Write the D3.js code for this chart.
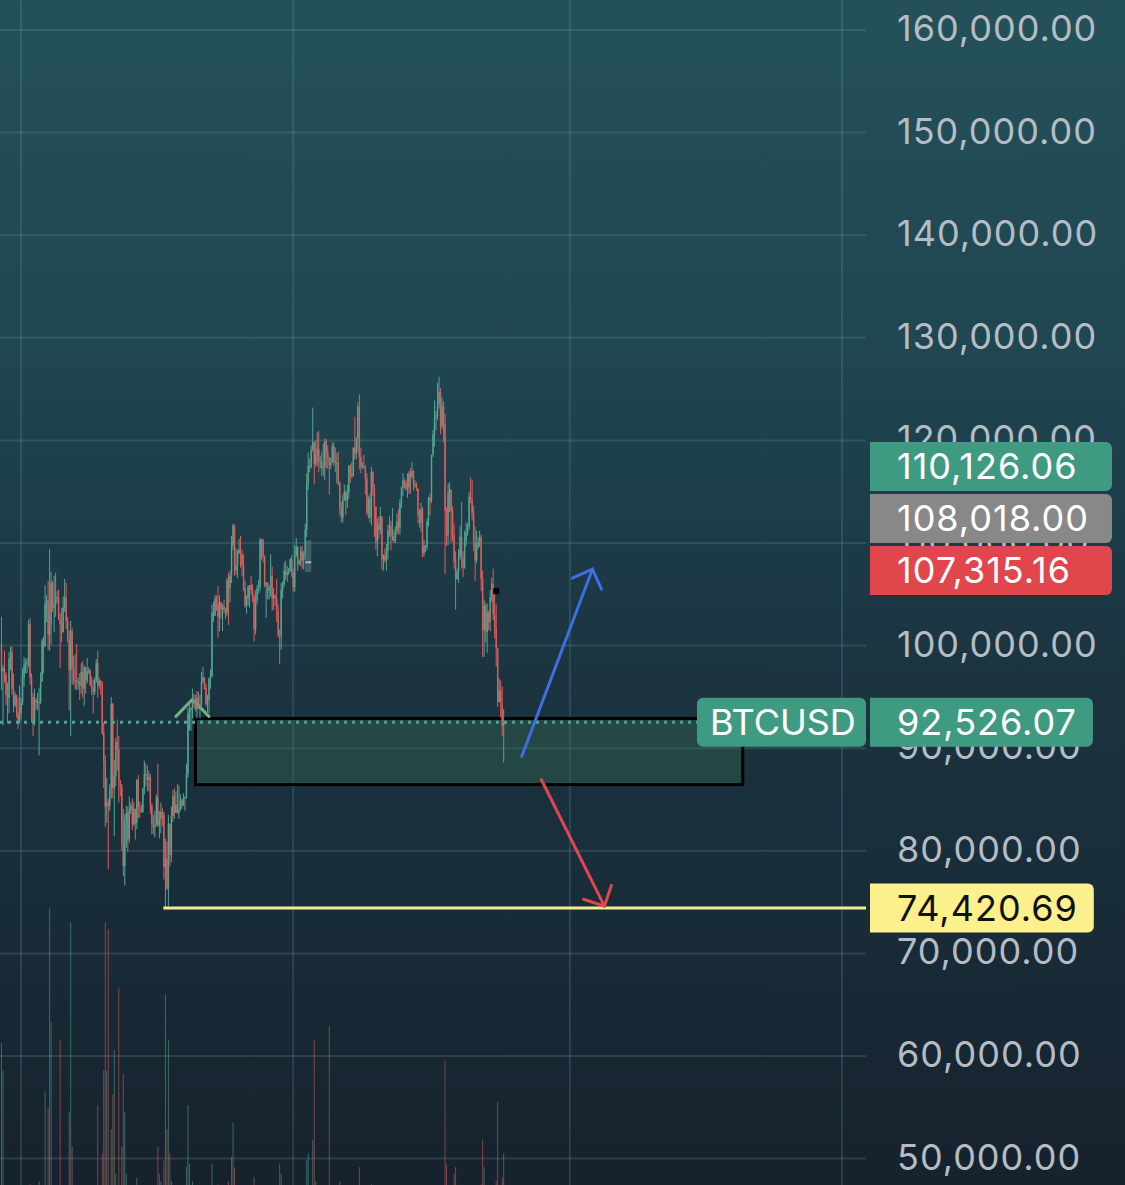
<!DOCTYPE html>
<html>
<head>
<meta charset="utf-8">
<script src="https://cdn.jsdelivr.net/npm/d3@7"></script>
<style>
  html, body { margin: 0; padding: 0; background: #172430; }
  svg { display: block; }
</style>
</head>
<body>
<svg id="chart" width="1125" height="1185"></svg>
<script>
// BTCUSD daily candles, 19 Dec 2024 – 18 Nov 2025, prices in thousands of USD
const firstDay = "2024-12-19";

const opens = [
  // Dec
  100.2,97.5,97.8,97.2,95.2,94.9,98.7,99.4,95.8,94.2,95.2,93.5,92.6,
  // Jan
  93.4,94.4,96.9,98.1,98.2,98.3,102.1,96.9,95.0,92.5,94.7,94.5,94.5,94.5,96.5,100.5,99.9,104.1,104.4,101.1,102.0,106.1,103.7,104.0,104.7,104.7,102.6,102.1,101.3,103.7,104.7,
  // Feb
  102.4,100.6,97.6,101.4,97.8,96.6,96.6,96.5,96.5,96.1,97.4,95.8,97.9,96.6,97.5,97.6,96.1,95.8,95.5,96.6,98.3,96.1,96.6,96.3,91.5,88.7,84.3,84.7,
  // Mar
  84.4,86.0,94.3,86.1,87.3,90.6,89.9,86.8,86.2,80.7,78.5,82.9,83.7,81.1,84.0,84.4,82.6,84.1,82.7,86.9,84.2,84.1,83.8,86.1,87.5,87.4,86.9,87.2,84.4,82.6,82.3,
  // Apr
  82.5,85.2,82.5,83.1,83.8,83.5,78.4,79.2,76.3,82.6,79.6,83.4,85.3,83.7,84.5,83.7,84.0,84.9,84.4,85.1,85.2,87.5,93.4,93.7,93.9,94.7,94.6,93.8,94.9,94.2,
  // May
  94.2,96.5,96.9,95.9,94.3,94.7,96.8,97.0,103.2,102.9,104.6,104.1,102.8,104.2,103.5,103.8,103.5,103.2,106.4,105.6,106.8,109.7,111.7,107.3,107.8,109.0,109.4,108.9,107.8,105.6,103.9,
  // Jun
  104.6,105.7,105.9,105.4,104.7,101.6,104.4,105.6,105.7,110.3,110.3,108.7,105.9,106.1,105.4,105.6,106.8,104.6,104.9,104.6,103.3,101.0,100.9,105.4,106.0,107.3,106.9,107.1,107.3,108.4,
  // Jul
  107.1,105.7,108.8,109.6,108.0,108.2,109.2,108.3,108.9,111.3,115.9,117.5,117.4,119.1,119.8,117.7,118.6,119.2,117.9,117.9,117.3,117.4,119.9,118.8,118.3,117.6,117.9,119.4,118.0,117.8,117.8,
  // Aug
  115.8,113.3,112.5,114.2,115.0,114.1,115.0,117.5,116.7,116.5,119.3,118.7,120.2,123.3,118.4,117.4,117.5,117.4,116.3,112.9,114.3,112.5,116.9,115.4,113.5,110.1,111.8,111.3,112.6,108.4,108.8,
  // Sep
  108.3,109.2,111.2,111.7,110.7,110.7,110.2,111.1,112.1,111.5,113.9,115.4,116.1,115.9,115.3,115.4,116.8,116.5,117.0,115.7,115.7,115.3,112.7,112.0,113.3,109.0,109.7,109.6,112.1,114.4,
  // Oct
  114.1,118.6,120.6,122.3,122.4,123.5,124.7,121.4,123.3,121.7,113.2,110.7,114.9,115.2,113.1,110.8,108.2,106.5,107.2,108.7,110.6,108.5,107.6,110.1,111.0,111.6,114.5,114.1,112.9,110.0,108.3,
  // Nov
  109.6,110.1,110.6,106.5,101.5,103.9,101.3,103.3,102.3,104.7,106.0,103.0,101.7,99.7,94.5,95.6,94.2,92.2
];

const highs = [
  102.8,98.1,99.5,97.4,96.4,99.4,99.9,99.9,97.3,95.5,95.2,94.9,96.1,
  94.9,97.8,98.9,98.7,98.8,102.5,102.7,97.3,95.4,95.8,94.9,95.4,95.9,97.4,100.7,100.9,105.9,104.9,106.3,109.4,107.2,106.3,106.8,107.1,105.3,105.5,103.2,103.7,104.8,106.5,106.1,
  102.8,101.5,102.4,101.7,99.0,99.2,100.1,96.9,97.3,98.3,98.5,98.1,97.9,98.8,97.9,97.7,97.0,96.7,96.9,98.7,99.5,96.9,96.6,96.5,92.5,89.3,87.1,85.1,
  86.5,95.0,94.4,88.9,91.0,92.8,91.2,86.9,86.5,84.1,83.6,84.4,84.3,85.3,84.7,85.1,84.8,84.1,87.0,87.4,84.8,84.5,86.1,88.8,88.5,88.3,87.8,87.5,84.6,83.5,83.9,
  85.5,88.5,83.9,84.7,84.2,83.8,81.2,80.9,83.5,82.7,84.3,85.9,86.1,85.8,86.5,86.4,85.5,85.1,85.6,85.3,88.5,93.9,94.7,94.0,95.8,95.3,95.2,95.6,95.5,95.2,
  97.4,97.9,96.9,96.3,95.2,96.9,97.7,104.0,104.3,104.9,104.9,105.8,104.9,104.3,104.1,104.5,103.7,106.6,107.1,107.3,110.7,111.9,111.8,109.5,109.3,110.4,110.7,109.3,108.9,106.3,104.9,
  105.9,105.9,106.8,106.0,105.0,105.4,105.9,106.4,110.5,110.4,110.4,108.8,106.2,106.2,105.9,108.9,107.7,105.6,105.0,106.5,104.0,101.6,106.1,106.3,108.1,108.3,107.8,107.6,108.5,108.8,
  107.5,109.8,110.5,109.7,108.4,109.7,109.7,109.2,111.9,116.8,118.8,118.2,119.5,123.2,119.9,120.0,120.8,120.9,118.5,118.9,119.7,120.2,120.1,119.5,118.4,118.3,119.8,119.8,119.3,118.8,118.9,
  116.0,114.0,114.7,115.7,115.1,115.7,117.6,117.7,117.9,119.3,122.3,120.3,123.7,124.5,119.3,117.9,118.6,117.6,116.8,114.6,114.8,117.4,117.0,115.7,113.6,112.4,112.6,113.5,112.6,108.9,109.5,
  109.9,111.8,112.6,112.2,113.4,111.3,111.6,112.9,113.3,114.3,115.5,116.8,116.3,116.1,116.8,117.0,117.3,117.9,117.1,116.1,115.9,115.3,113.3,113.9,113.5,110.3,109.8,112.4,114.5,114.8,
  118.6,121.0,123.9,122.9,125.6,126.2,125.1,124.2,123.8,122.6,113.5,115.8,115.9,115.2,113.6,111.9,109.2,107.5,109.4,111.7,114.0,109.2,111.2,112.0,111.9,115.0,116.4,116.1,113.6,111.6,111.2,
  110.6,111.2,110.8,107.3,104.5,104.2,104.1,103.4,105.4,106.6,107.5,105.3,104.0,99.8,96.8,96.6,96.0,93.8
];

const lows = [
  95.7,92.2,96.4,94.2,92.4,93.4,97.6,95.2,93.5,94.0,93.0,91.9,92.4,
  92.8,94.2,96.0,97.3,97.3,97.9,96.2,92.5,91.2,92.2,93.8,93.7,89.3,94.3,96.5,97.3,99.9,102.3,99.6,99.5,100.1,103.3,101.3,102.8,104.1,102.5,97.8,100.3,101.3,103.3,101.6,
  100.3,93.7,91.2,96.2,96.2,95.7,95.7,95.7,94.7,95.3,94.9,94.1,95.3,96.3,97.2,96.1,95.2,93.4,95.2,96.4,94.9,95.8,95.2,91.3,86.1,82.3,82.7,78.2,
  83.9,85.1,85.1,81.4,86.3,87.8,84.7,85.3,80.0,77.5,76.6,80.3,79.9,80.8,83.6,82.0,82.4,81.1,82.1,83.2,83.2,83.7,83.7,85.5,86.3,85.8,85.8,83.6,81.6,81.6,81.3,
  82.4,82.3,81.2,81.7,82.4,77.2,74.42069,76.2,74.6,78.5,78.9,82.8,83.1,83.7,83.6,83.1,83.9,84.1,84.4,83.9,85.1,87.1,91.7,91.7,92.9,93.9,93.6,92.9,93.8,92.9,
  94.1,96.3,95.7,94.1,93.5,93.4,95.8,96.9,102.3,102.9,103.4,100.8,101.4,102.6,101.4,103.1,102.6,102.9,102.0,104.2,106.1,109.3,106.8,106.9,106.6,108.9,107.6,106.8,105.3,103.7,103.1,
  103.9,103.7,104.9,104.2,100.4,101.1,104.0,105.1,105.3,108.4,108.1,105.7,102.7,104.5,104.5,104.8,103.4,103.5,103.9,102.3,100.8,98.2,99.6,104.6,105.7,106.4,106.2,106.9,107.2,106.7,
  105.3,105.2,108.6,107.3,107.8,107.8,107.5,107.4,108.4,110.6,115.2,116.9,117.3,118.9,115.7,117.4,117.5,116.9,117.3,116.5,116.5,116.1,117.3,117.2,114.7,117.2,117.8,117.5,116.9,115.8,115.6,
  112.7,112.0,112.0,114.1,112.7,113.4,114.3,115.9,116.3,116.5,118.1,118.2,118.9,117.2,116.8,117.2,117.2,114.7,112.7,112.4,112.0,111.7,114.6,110.6,109.3,108.7,110.4,110.9,107.4,107.3,108.1,
  107.3,108.4,110.6,109.3,110.2,110.0,110.0,110.8,110.9,110.8,113.4,114.6,115.3,115.1,114.4,114.8,114.8,116.3,115.1,115.4,115.1,111.9,111.5,111.1,108.6,108.7,109.1,109.3,111.6,112.7,
  113.9,118.4,119.4,121.0,122.0,123.1,120.6,121.1,119.8,107.0,109.7,109.8,113.0,110.0,110.2,107.5,103.5,106.4,106.1,108.4,107.5,106.7,107.5,109.7,110.7,111.3,113.9,112.2,109.2,106.3,108.0,
  109.4,109.6,105.3,98.9,98.9,100.3,99.3,101.5,101.4,104.3,102.5,100.7,98.0,94.0,94.5,93.0,91.2,88.6
];

const closes = [
  97.5,97.8,97.2,95.2,94.9,98.7,99.4,95.8,94.2,95.2,93.5,92.6,93.4,
  94.4,96.9,98.1,98.2,98.3,102.1,96.9,95.0,92.5,94.7,94.5,94.5,94.5,96.5,100.5,99.9,104.1,104.4,101.1,102.0,106.1,103.7,104.0,104.7,104.7,102.6,102.1,101.3,103.7,104.7,102.4,
  100.6,97.6,101.4,97.8,96.6,96.6,96.5,96.5,96.1,97.4,95.8,97.9,96.6,97.5,97.6,96.1,95.8,95.5,96.6,98.3,96.1,96.6,96.3,91.5,88.7,84.3,84.7,84.4,
  86.0,94.3,86.1,87.3,90.6,89.9,86.8,86.2,80.7,78.5,82.9,83.7,81.1,84.0,84.4,82.6,84.1,82.7,86.9,84.2,84.1,83.8,86.1,87.5,87.4,86.9,87.2,84.4,82.6,82.3,82.5,
  85.2,82.5,83.1,83.8,83.5,78.4,79.2,76.3,82.6,79.6,83.4,85.3,83.7,84.5,83.7,84.0,84.9,84.4,85.1,85.2,87.5,93.4,93.7,93.9,94.7,94.6,93.8,94.9,94.2,94.2,
  96.5,96.9,95.9,94.3,94.7,96.8,97.0,103.2,102.9,104.6,104.1,102.8,104.2,103.5,103.8,103.5,103.2,106.4,105.6,106.8,109.7,111.7,107.3,107.8,109.0,109.4,108.9,107.8,105.6,103.9,104.6,
  105.7,105.9,105.4,104.7,101.6,104.4,105.6,105.7,110.3,110.3,108.7,105.9,106.1,105.4,105.6,106.8,104.6,104.9,104.6,103.3,101.0,100.9,105.4,106.0,107.3,106.9,107.1,107.3,108.4,107.1,
  105.7,108.8,109.6,108.0,108.2,109.2,108.3,108.9,111.3,115.9,117.5,117.4,119.1,119.8,117.7,118.6,119.2,117.9,117.9,117.3,117.4,119.9,118.8,118.3,117.6,117.9,119.4,118.0,117.8,117.8,115.8,
  113.3,112.5,114.2,115.0,114.1,115.0,117.5,116.7,116.5,119.3,118.7,120.2,123.3,118.4,117.4,117.5,117.4,116.3,112.9,114.3,112.5,116.9,115.4,113.5,110.1,111.8,111.3,112.6,108.4,108.8,108.3,
  109.2,111.2,111.7,110.7,110.7,110.2,111.1,112.1,111.5,113.9,115.4,116.1,115.9,115.3,115.4,116.8,116.5,117.0,115.7,115.7,115.3,112.7,112.0,113.3,109.0,109.7,109.6,112.1,114.4,114.1,
  118.6,120.6,122.3,122.4,123.5,124.7,121.4,123.3,121.7,113.2,110.7,114.9,115.2,113.1,110.8,108.2,106.5,107.2,108.7,110.6,108.5,107.6,110.1,111.0,111.6,114.5,114.1,112.9,110.0,108.3,109.6,
  110.1,110.6,106.5,101.5,103.9,101.3,103.3,102.3,104.7,106.0,103.0,101.7,99.7,94.5,95.6,94.2,92.2,92.52607
];

// Daily volume, relative units
const volumes = [
  60,52,14,10,16,12,8,15,13,7,9,14,12,
  9,14,12,7,6,17,19,15,16,18,6,7,20,13,15,13,46,12,41,99,66,15,18,14,6,7,61,14,13,12,16,
  10,40,95,30,16,14,17,5,8,11,13,17,12,11,4,5,10,15,10,11,42,8,6,28,52,95,52,93,
  18,35,45,58,22,18,76,9,30,51,40,22,17,16,5,9,12,13,21,17,10,4,7,15,12,13,12,17,9,8,14,
  14,30,22,20,5,26,74,35,61,28,20,10,12,14,12,13,9,5,4,6,24,42,25,14,20,6,7,16,12,13,
  15,11,6,5,12,13,16,25,18,8,9,19,14,12,13,10,6,9,20,16,27,37,24,9,7,12,13,11,14,15,7,
  6,10,10,9,21,17,6,5,14,12,10,13,18,7,6,11,13,11,8,13,14,25,22,13,12,11,8,4,5,10,
  12,14,12,10,4,4,8,9,14,26,28,8,8,32,61,20,18,17,6,7,14,16,13,13,65,6,6,12,11,12,14,
  20,12,8,9,11,10,12,10,6,9,16,12,15,24,14,5,5,13,12,11,10,19,7,14,16,14,12,10,15,5,5,
  11,10,8,9,11,4,4,8,9,10,9,10,5,4,8,8,11,10,8,3,3,14,9,8,15,11,4,5,10,9,
  14,13,12,6,9,14,16,12,13,55,25,15,13,16,12,22,24,6,6,11,17,13,10,9,4,6,12,12,13,15,12,
  5,5,19,32,24,15,17,7,8,14,15,14,20,43,12,14,21,28
];

const priceTicks = [50000, 60000, 70000, 80000, 90000, 100000, 110000, 120000, 130000, 140000, 150000, 160000];

const symbol = "BTCUSD";
const lastPrice = 92526.07;
const supportLevel = 74420.69;
const supportFrom = "2025-04-07";

// Indicator values shown in the price scale, with their badge colours
const statValues = [110126.06, 108018.00, 107315.16];
const statColors = ["#3f9a82", "#888888", "#e0464c"];

// Drawings on the chart
const zone = { from: "2025-04-27", to: "2026-04-26", top: 92900, bottom: 86450 };
const upArrow = [["2025-11-30", 89200], ["2026-01-16", 107450]];
const downArrow = [["2025-12-13", 86950], ["2026-01-24", 74600]];
const chevron = [["2025-04-14", 93100], ["2025-04-25", 94760], ["2025-05-06", 93100]];
const marker = ["2025-11-13", 105300];
const flagBox = { from: "2025-07-09", to: "2025-07-13", top: 110270, bottom: 107150, mark: 108120 };

// ---------------------------------------------------------------
const W = 1125, H = 1185, plotRight = 866, labelX = 897;
const UP = "#52a692", DOWN = "#e05c5c";
const FONT = "Inter, 'Noto Sans', sans-serif";
const parse = d3.utcParse("%Y-%m-%d");
const day0 = parse(firstDay);

const candles = closes.map((c, i) => ({
  date: d3.utcDay.offset(day0, i),
  o: opens[i] * 1000, h: highs[i] * 1000, l: lows[i] * 1000, c: c * 1000,
  v: volumes[i]
}));

const x = d3.scaleUtc()
  .domain([parse("2024-12-18"), parse("2026-07-01")])
  .range([0, 842]);
const y = d3.scaleLinear().domain([50000, 160000]).range([1158.6, 30]);
const vy = d3.scaleLinear().domain([0, 100]).range([1250, 905]);

const svg = d3.select("#chart");
const defs = svg.append("defs");

const bg = defs.append("linearGradient").attr("id", "bg")
  .attr("x1", 0).attr("y1", 0).attr("x2", 0).attr("y2", 1);
[[0, "#245159"], [0.3, "#1f4651"], [0.55, "#1b3541"], [0.8, "#182b37"], [1, "#16222d"]]
  .forEach(([o, c]) => bg.append("stop").attr("offset", o).attr("stop-color", c));
svg.append("rect").attr("width", W).attr("height", H).attr("fill", "url(#bg)");

defs.append("clipPath").attr("id", "plotClip")
  .append("rect").attr("x", 0).attr("y", 0).attr("width", plotRight).attr("height", H);

// Grid
const grid = svg.append("g").attr("stroke", "rgba(120,170,178,0.2)").attr("stroke-width", 2);
grid.selectAll("line.h").data(priceTicks).join("line").attr("class", "h")
  .attr("x1", 0).attr("x2", plotRight).attr("y1", d => y(d)).attr("y2", d => y(d));
grid.selectAll("line.v").data(x.ticks(d3.utcMonth.every(6))).join("line").attr("class", "v")
  .attr("x1", d => x(d)).attr("x2", d => x(d)).attr("y1", 0).attr("y2", H);

const plot = svg.append("g").attr("clip-path", "url(#plotClip)");

// Volume
plot.append("g").selectAll("line").data(candles).join("line")
  .attr("x1", d => x(d.date)).attr("x2", d => x(d.date))
  .attr("y1", vy(0)).attr("y2", d => vy(d.v))
  .attr("stroke", d => d.c >= d.o ? UP : DOWN)
  .attr("stroke-opacity", 0.55).attr("stroke-width", 1);

// Demand zone
plot.append("rect")
  .attr("x", x(parse(zone.from))).attr("y", y(zone.top))
  .attr("width", x(parse(zone.to)) - x(parse(zone.from)))
  .attr("height", y(zone.bottom) - y(zone.top))
  .attr("fill", "rgba(58,118,84,0.32)").attr("stroke", "#000").attr("stroke-width", 3);

// Green chevron
const linePts = d3.line().x(d => x(parse(d[0]))).y(d => y(d[1]));
plot.append("path").attr("d", linePts(chevron))
  .attr("fill", "none").attr("stroke", "#6cb383").attr("stroke-width", 3).attr("stroke-linecap", "round");

// Small box in July
plot.append("rect")
  .attr("x", x(parse(flagBox.from))).attr("y", y(flagBox.top))
  .attr("width", x(parse(flagBox.to)) - x(parse(flagBox.from)))
  .attr("height", y(flagBox.bottom) - y(flagBox.top))
  .attr("fill", "rgba(110,150,150,0.4)");
plot.append("line")
  .attr("x1", x(parse(flagBox.from))).attr("x2", x(parse(flagBox.to)))
  .attr("y1", y(flagBox.mark)).attr("y2", y(flagBox.mark))
  .attr("stroke", "rgba(210,215,215,0.7)").attr("stroke-width", 2);

// Candles
const cg = plot.append("g");
cg.selectAll("line").data(candles).join("line")
  .attr("x1", d => x(d.date)).attr("x2", d => x(d.date))
  .attr("y1", d => y(d.h)).attr("y2", d => y(d.l))
  .attr("stroke", d => d.c >= d.o ? UP : DOWN).attr("stroke-width", 1);
cg.selectAll("rect").data(candles).join("rect")
  .attr("x", d => x(d.date) - 0.7).attr("width", 1.4)
  .attr("y", d => y(Math.max(d.o, d.c)))
  .attr("height", d => Math.max(1, Math.abs(y(d.o) - y(d.c))))
  .attr("fill", d => d.c >= d.o ? UP : DOWN);

// Marker square
plot.append("rect")
  .attr("x", x(parse(marker[0])) - 3).attr("y", y(marker[1]) - 3)
  .attr("width", 6).attr("height", 6).attr("fill", "#000");

// Last price dotted line
plot.append("line")
  .attr("x1", 0).attr("x2", plotRight).attr("y1", y(lastPrice)).attr("y2", y(lastPrice))
  .attr("stroke", "#4fa590").attr("stroke-width", 3).attr("stroke-dasharray", "3 5");

// Support level ray
plot.append("line")
  .attr("x1", x(parse(supportFrom)) - 2).attr("x2", plotRight)
  .attr("y1", y(supportLevel)).attr("y2", y(supportLevel))
  .attr("stroke", "#f4ec92").attr("stroke-width", 3);

// Arrows
function arrow(pts, color) {
  const [a, b] = pts.map(p => [x(parse(p[0])), y(p[1])]);
  const ang = Math.atan2(a[1] - b[1], a[0] - b[0]);
  const len = 22, spread = Math.PI / 4;
  const w1 = [b[0] + len * Math.cos(ang + spread), b[1] + len * Math.sin(ang + spread)];
  const w2 = [b[0] + len * Math.cos(ang - spread), b[1] + len * Math.sin(ang - spread)];
  const g = plot.append("g").attr("stroke", color).attr("stroke-width", 3)
    .attr("stroke-linecap", "round").attr("fill", "none");
  g.append("path").attr("d", d3.line()([a, b]));
  g.append("path").attr("d", d3.line()([w1, b, w2]));
}
arrow(upArrow, "#3d6ee3");
arrow(downArrow, "#e0474c");

// Price axis
const axis = svg.append("g").attr("transform", `translate(${labelX},0)`)
  .call(d3.axisRight(y).tickValues(priceTicks).tickFormat(d3.format(",.2f")).tickSize(0).tickPadding(0));
axis.select(".domain").remove();
axis.selectAll("text")
  .attr("x", 0).attr("dy", 0).attr("y", 10.5)
  .attr("text-anchor", "start")
  .attr("fill", "#b5bcc3")
  .style("font-family", FONT)
  .style("font-size", "36px")
  .style("letter-spacing", "1px");

// Badges
const fmt = d3.format(",.2f");
function badgePath(x0, y0, w, h, r, roundLeft) {
  const p = d3.path();
  const rl = roundLeft ? r : 0;
  p.moveTo(x0 + rl, y0);
  p.lineTo(x0 + w - r, y0);
  p.arcTo(x0 + w, y0, x0 + w, y0 + r, r);
  p.lineTo(x0 + w, y0 + h - r);
  p.arcTo(x0 + w, y0 + h, x0 + w - r, y0 + h, r);
  p.lineTo(x0 + rl, y0 + h);
  if (rl) p.arcTo(x0, y0 + h, x0, y0 + h - rl, rl); else p.lineTo(x0, y0 + h);
  p.lineTo(x0, y0 + rl);
  if (rl) p.arcTo(x0, y0, x0 + rl, y0, rl);
  p.closePath();
  return p.toString();
}
function badge(cy, text, fill, color, opts = {}) {
  const g = svg.append("g");
  const h = 49;
  const tx = opts.textX ?? labelX;
  const t = g.append("text").text(text)
    .attr("x", tx).attr("y", cy + 12.5)
    .attr("fill", color)
    .style("font-family", FONT)
    .style("font-size", "36px")
    .style("letter-spacing", opts.spacing ?? "1px");
  const tw = t.node().getComputedTextLength();
  const x0 = opts.boxX ?? 870;
  const w = opts.width ?? (tx - x0 + tw + 16);
  g.insert("path", "text").attr("d", badgePath(x0, cy - h / 2, w, h, 6, !!opts.roundLeft)).attr("fill", fill);
  return g;
}

// Indicator badges stacked upward from the lowest value, all sharing one width
const stat = statValues.map((v, i) => ({ v, color: statColors[i], cy: y(v) }))
  .sort((a, b) => a.v - b.v);
for (let i = 1; i < stat.length; i++) {
  stat[i].cy = Math.min(stat[i].cy, stat[i - 1].cy - 52);
}
const probe = svg.append("text").style("font-family", FONT).style("font-size", "36px").style("letter-spacing", "1px");
const statWidth = d3.max(stat, s => probe.text(fmt(s.v)).node().getComputedTextLength()) + (labelX - 870) + 23;
probe.remove();
stat.forEach(s => badge(s.cy, fmt(s.v), s.color, "#ffffff", { width: statWidth }));

// Last price badges
badge(y(lastPrice), fmt(lastPrice), "#3f9a82", "#ffffff");
badge(y(lastPrice), symbol, "#3f9a82", "#ffffff", { boxX: 697, textX: 710, width: 169, roundLeft: true, spacing: "0px" });

// Support badge
badge(y(supportLevel), fmt(supportLevel), "#fcf08c", "#111111");
</script>
</body>
</html>
